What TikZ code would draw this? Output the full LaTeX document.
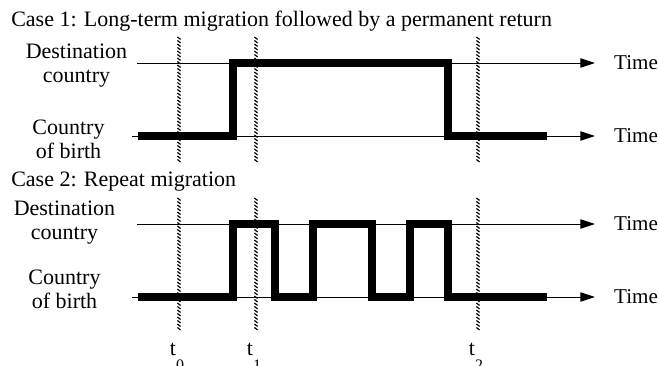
\documentclass[tikz,border=0pt]{standalone}
\usepackage{fontspec}
\setmainfont{Liberation Serif}
\usetikzlibrary{arrows.meta}

\begin{document}
\begin{tikzpicture}[x=0.75pt,y=-0.75pt,
    axis/.style={line width=0.7pt,-{Triangle[length=11pt,width=7pt]}},
    stay/.style={line width=6pt,line join=miter},
    hatch/.style={line width=0.9pt},
    lbl/.style={font=\fontsize{16.5}{18}\selectfont,inner sep=0pt,align=center},
    timelbl/.style={lbl,font=\fontsize{15.8}{18}\selectfont,right=14pt}]
    \useasboundingbox (0,0) rectangle (659,366);

    % case 1
    \node (title1) at (11,27) [lbl,anchor=base west] {Case 1: Long-term migration followed by a permanent return};
    \node (dest1) at (76.5,83) [lbl,anchor=base] {Destination\\country};
    \node (birth1) at (68.5,159) [lbl,anchor=base] {Country\\of birth};
    \coordinate (d1) at (137,63);
    \coordinate (b1) at (132,136);
    \draw[axis] (d1) -- (595,63) node (time1) [timelbl] {Time};
    \draw[axis] (b1) -- (595,136) node (time2) [timelbl] {Time};
    \draw[stay] (138,136) -- (233,136) -- (233,63) -- (448,63) -- (448,136) -- (547,136);

    % case 2
    \node (title2) at (11,187) [lbl,anchor=base west] {Case 2: Repeat migration};
    \node (dest2) at (64.5,240) [lbl,anchor=base] {Destination\\country};
    \node (birth2) at (64.5,308) [lbl,anchor=base] {Country\\of birth};
    \coordinate (d2) at (137,224);
    \coordinate (b2) at (132,297);
    \draw[axis] (d2) -- (595,224) node (time3) [timelbl] {Time};
    \draw[axis] (b2) -- (595,297) node (time4) [timelbl] {Time};
    \draw[stay] (138,297) -- (233,297) -- (233,224) -- (275,224) -- (275,297)
        -- (313,297) -- (313,224) -- (372,224) -- (372,297) -- (410,297)
        -- (410,224) -- (448,224) -- (448,297) -- (547,297);

    % observation dates
    \foreach \x/\i in {179/0,256/1,478/2}{
        \foreach \y in {37,40.5,...,160}
            \draw[hatch] (\x-1.6,\y) -- (\x+1.6,\y+2.4);
        \foreach \y in {198,201.5,...,330}
            \draw[hatch] (\x-1.6,\y) -- (\x+1.6,\y+2.4);
        \node (t\i) at (\x-2,355) [lbl,anchor=base] {t\raisebox{-0.72em}{\fontsize{12}{12}\selectfont\i}};
    }
\end{tikzpicture}
\end{document}
